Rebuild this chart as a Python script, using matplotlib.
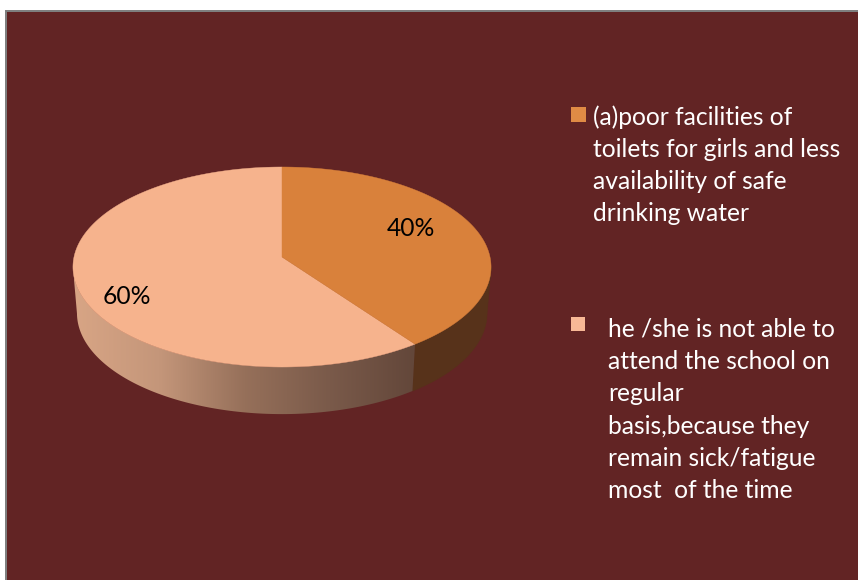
import numpy as np
import matplotlib
matplotlib.use('Agg')
import matplotlib.pyplot as plt
from matplotlib.colors import LinearSegmentedColormap
from matplotlib.patches import Polygon, Rectangle

# data
values = [40, 60]
labels = ['40%', '60%']
colors = ['#d9813b', '#f6b38d']
side_right = '#57321a'
legend_first = ['(a)poor facilities of', 'toilets for girls and less', 'availability of safe', 'drinking water']
legend_second = ['he /she is not able to', 'attend the school on', 'regular', 'basis,because they', 'remain sick/fatigue', 'most  of the time']
legend_colors = ['#e08b45', '#f8b896']
bg = '#622424'

plt.rcParams['font.family'] = ['Lato', 'DejaVu Sans']

fig = plt.figure(figsize=(8.58, 5.8), dpi=100, facecolor='white')
ax = fig.add_axes([0, 0, 1, 1])
ax.axis('off')


# circle -> picture, with a little perspective (front of the pie is bigger)
def project(theta, cy, a, b, k=0.1):
    X = np.sin(theta)
    Y = -np.cos(theta)
    d = 1 - k * Y
    return 282 + a * X / d, cy + b * Y / d


def arc(start, stop, cy, a, b):
    t = np.radians(np.linspace(start, stop, 200))
    x, y = project(t, cy, a, b)
    return np.column_stack([x, y])


ax.add_patch(Rectangle((5, 10), 860, 580, fc='#7f7f7f', ec='none'))
ax.add_patch(Rectangle((7, 12), 860, 580, fc=bg, ec='none'))

split = 360 * values[0] / sum(values)
top = (257, 208, 99)
bottom = (303, 204, 100)

# side walls, between the widest points of the two rims
wall_r = np.vstack([arc(96, split, *top), arc(split, 96, *bottom)])
ax.add_patch(Polygon(wall_r, fc=side_right, ec=side_right, lw=0.5))

wall_l = np.vstack([arc(split, 264, *top), arc(264, split, *bottom)])
clip = Polygon(wall_l, fc='none', ec='none')
ax.add_patch(clip)
cmap = LinearSegmentedColormap.from_list('wall', ['#d8a585', '#c4967a', '#96705a', '#7a5a4a', '#63473a'])
im = ax.imshow(np.linspace(0, 1, 256).reshape(1, -1), cmap=cmap, aspect='auto',
               extent=(74, 415, 415, 260), zorder=2)
im.set_clip_path(clip)

# top face
orange = np.vstack([[[282, 257]], arc(0, split, *top)])
peach = np.vstack([[[282, 257]], arc(split, 360, *top)])
ax.add_patch(Polygon(peach, fc=colors[1], ec=colors[1], lw=0.3, zorder=3))
ax.add_patch(Polygon(orange, fc=colors[0], ec=colors[0], lw=0.3, zorder=3))

ax.text(411, 228, labels[0], fontsize=17.7, color='black', ha='center', va='center', zorder=4)
ax.text(127, 296, labels[1], fontsize=17.7, color='black', ha='center', va='center', zorder=4)

# legend
ax.add_patch(Rectangle((571, 107), 15, 15, fc=legend_colors[0], ec='none', zorder=4))
ax.add_patch(Rectangle((571, 317), 14, 14, fc=legend_colors[1], ec='none', zorder=4))
for i, line in enumerate(legend_first):
    ax.text(593, 117 + i * 32.2, line, fontsize=17.7, color='white', va='center', zorder=4)
for i, line in enumerate(legend_second):
    ax.text(608, 329 + i * 32.4, line, fontsize=17.7, color='white', va='center', zorder=4)

ax.set_xlim(0, 858)
ax.set_ylim(580, 0)
fig.savefig('out.png', dpi=100, facecolor='white')
